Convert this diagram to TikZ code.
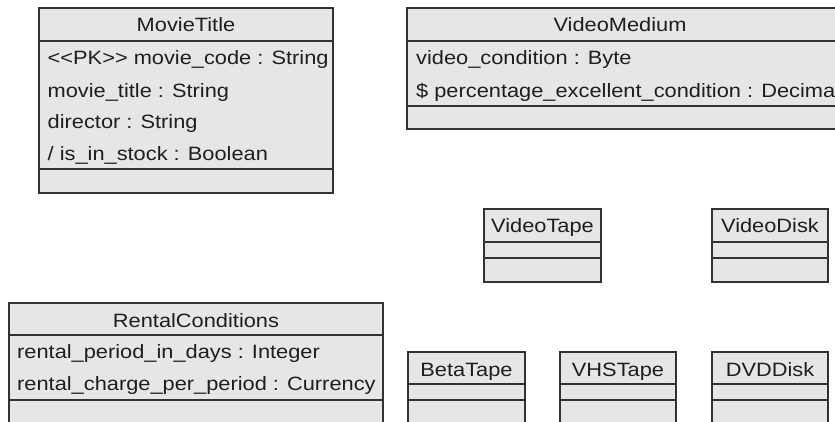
\documentclass[tikz,border=0pt]{standalone}
\usepackage{fontspec}
\setmainfont{Liberation Sans}[FakeStretch=1.13]
\definecolor{boxfill}{RGB}{230,230,232}
\definecolor{boxline}{RGB}{50,50,50}
\definecolor{txt}{RGB}{30,30,30}
\tikzset{
  classbox/.style={draw=boxline, fill=boxfill, line width=1.2pt},
  sepline/.style={draw=boxline, line width=1.2pt},
  cname/.style={text=txt, font=\fontsize{19.3}{22}\selectfont, inner sep=0pt, anchor=base},
  attr/.style={text=txt, font=\fontsize{19.3}{22}\selectfont, inner sep=0pt, anchor=base west},
}
% class box: left, top, right, bottom, header line, attribute line
\newcommand{\umlbox}[6]{%
  \path[classbox] (#1,#2) rectangle (#3,#4);
  \path[sepline] (#1,#5) -- (#3,#5);
  \path[sepline] (#1,#6) -- (#3,#6);
}
\begin{document}
\begin{tikzpicture}[x=1pt,y=-1pt]
\useasboundingbox (0,0) rectangle (835,422);
\clip (0,0) rectangle (835,422);

% MovieTitle
\umlbox{39}{8}{333}{193}{41}{169}
\node[cname] (mt) at (186,32) {MovieTitle};
\node[attr] (mt1) at (47.5,65) {<{}<PK>{}> movie\_code : String};
\node[attr] (mt2) at (47.5,97.5) {movie\_title : String};
\node[attr] (mt3) at (47.5,129) {director : String};
\node[attr] (mt4) at (47.5,160.5) {/ is\_in\_stock : Boolean};

% VideoMedium
\umlbox{407}{8}{860}{129}{41}{106}
\node[cname] (vm) at (620,32) {VideoMedium};
\node[attr] (vm1) at (416,65) {video\_condition : Byte};
\node[attr] (vm2) at (416,97.5) {\$ percentage\_excellent\_condition : Decimal};

% RentalConditions
\umlbox{9}{303}{383}{440}{335}{400}
\node[cname] (rc) at (196,327) {RentalConditions};
\node[attr] (rc1) at (17,358) {rental\_period\_in\_days : Integer};
\node[attr] (rc2) at (17,390) {rental\_charge\_per\_period : Currency};

% VideoTape / VideoDisk
\umlbox{484}{209}{601}{282}{242}{258}
\node[cname] (vt) at (542.5,233) {VideoTape};
\umlbox{712}{209}{828}{282}{242}{258}
\node[cname] (vd) at (770,233) {VideoDisk};

% BetaTape / VHSTape / DVDDisk
\umlbox{408}{352}{525}{440}{384}{400}
\node[cname] (bt) at (466.5,376) {BetaTape};
\umlbox{560}{352}{676}{440}{384}{400}
\node[cname] (vh) at (618,376) {VHSTape};
\umlbox{712}{352}{828}{440}{384}{400}
\node[cname] (dv) at (770,376) {DVDDisk};
\end{tikzpicture}
\end{document}
